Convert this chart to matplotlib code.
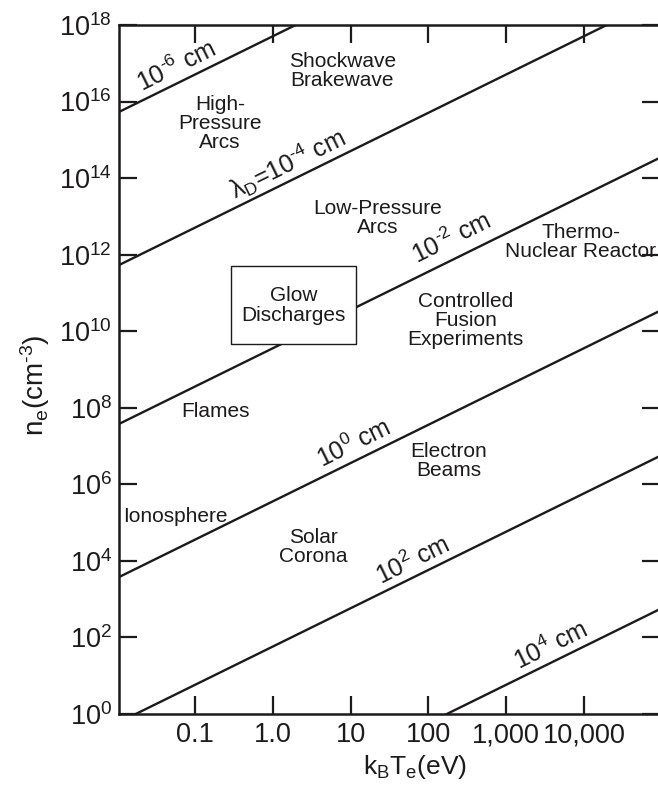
import numpy as np
import matplotlib
matplotlib.use("Agg")
import matplotlib.pyplot as plt
from matplotlib.path import Path

plt.rcParams['font.family'] = ['Liberation Sans', 'DejaVu Sans']
plt.rcParams['mathtext.fontset'] = 'custom'
plt.rcParams['mathtext.rm'] = 'Liberation Sans'
plt.rcParams['mathtext.it'] = 'Liberation Sans:italic'
plt.rcParams['mathtext.default'] = 'regular'

ink = '#1c1a1b'

# Debye length lines: n_e proportional to k_B T_e, density read at k_B T_e = 1 eV
debye_lengths = [r'$10^{\text{-}6}$ cm', r'$\lambda_D$=$10^{\text{-}4}$ cm',
                 r'$10^{\text{-}2}$ cm', r'$10^{0}$ cm', r'$10^{2}$ cm', r'$10^{4}$ cm']
n_at_1eV = [5.1e17, 5.1e13, 3.6e9, 3.6e5, 58, 5.8e-3]
# label anchor (T in eV, n in cm^-3) for each line label
label_T = [0.0586, 1.53, 200, 10.9, 62.5, 3760]
label_n = [10**16.92, 10**14.39, 10**12.43, 10**7.08, 10**4.02, 10**1.78]

# plasma regions
regions = ['Shockwave\nBrakewave', 'High-\nPressure\nArcs', 'Low-Pressure\nArcs',
           'Thermo-\nNuclear Reactor', 'Controlled\nFusion\nExperiments',
           'Flames', 'Ionosphere', 'Solar\nCorona', 'Electron\nBeams']
region_T = [7.8, 0.21, 22, 9100, 302, 0.181, 0.0552, 3.32, 182]
region_n = [10**16.81, 10**15.43, 10**12.95, 10**12.32, 10**10.29,
            10**7.89, 10**5.17, 10**4.36, 10**6.6]

glow_T, glow_n = 1.83, 10**10.68

xticks = [0.1, 1, 10, 100, 1000, 10000]
xticklabels = ['0.1', '1.0', '10', '100', '1,000', '10,000']
yticks = [10.0**k for k in range(0, 19, 2)]


def tall_box(x0, y0, width, height, mutation_size):
    # rectangle with more padding above/below than left/right
    px, py = 0.5*mutation_size, 0.94*mutation_size
    x0, y0 = x0 - px, y0 - py
    x1, y1 = x0 + width + 2*px, y0 + height + 2*py
    return Path([(x0, y0), (x1, y0), (x1, y1), (x0, y1), (x0, y0)], closed=True)


fig = plt.figure(figsize=(6.58, 7.87), dpi=100)
ax = fig.add_axes([119/658, 1-714/787, (660-119)/658, (714-25)/787])
ax.set_xscale('log')
ax.set_yscale('log')
ax.set_xlim(0.0105, 9.5e4)
ax.set_ylim(1, 1e18)

T = np.array([1e-3, 1e6])
for n1 in n_at_1eV:
    ax.plot(T, n1*T, color=ink, lw=1.7, zorder=2)

# line labels, rotated along the lines
for txt, t, n, n1 in zip(debye_lengths, label_T, label_n, n_at_1eV):
    p1 = ax.transData.transform((t, n1*t))
    p2 = ax.transData.transform((t*10, n1*t*10))
    ang = np.degrees(np.arctan2(p2[1]-p1[1], p2[0]-p1[0]))
    ax.text(t, n, txt, rotation=ang, rotation_mode='anchor', ha='center',
            va='center', fontsize=18, color=ink)

for txt, t, n in zip(regions, region_T, region_n):
    ax.text(t, n, txt, ha='center', va='center', fontsize=15, color=ink,
            linespacing=1.0)

ax.text(glow_T, glow_n, 'Glow\nDischarges', ha='center', va='center', fontsize=15,
        color=ink, linespacing=1.05, zorder=3,
        bbox=dict(boxstyle=tall_box, fc='white', ec=ink, lw=1.0))

ax.set_xticks(xticks)
ax.set_xticklabels(xticklabels)
ax.set_yticks(yticks)
ax.yaxis.set_major_formatter(matplotlib.ticker.LogFormatterMathtext())
ax.minorticks_off()
ax.tick_params(which='both', direction='in', length=13, width=1.6, top=True,
               right=True, labelsize=19.5, colors=ink)
ax.tick_params(axis='x', pad=6)
ax.tick_params(axis='y', pad=5)
for s in ax.spines.values():
    s.set_linewidth(1.8)
    s.set_color(ink)

ax.set_xlabel(r'$k_BT_e$(eV)', fontsize=19, color=ink)
ax.xaxis.set_label_coords(0.547, -0.057)
ax.set_ylabel(r'$n_e$(cm$^{\text{-}3}$)', fontsize=20, color=ink)
ax.yaxis.set_label_coords(-0.124, 0.4775)

fig.savefig('out.png', dpi=100)
